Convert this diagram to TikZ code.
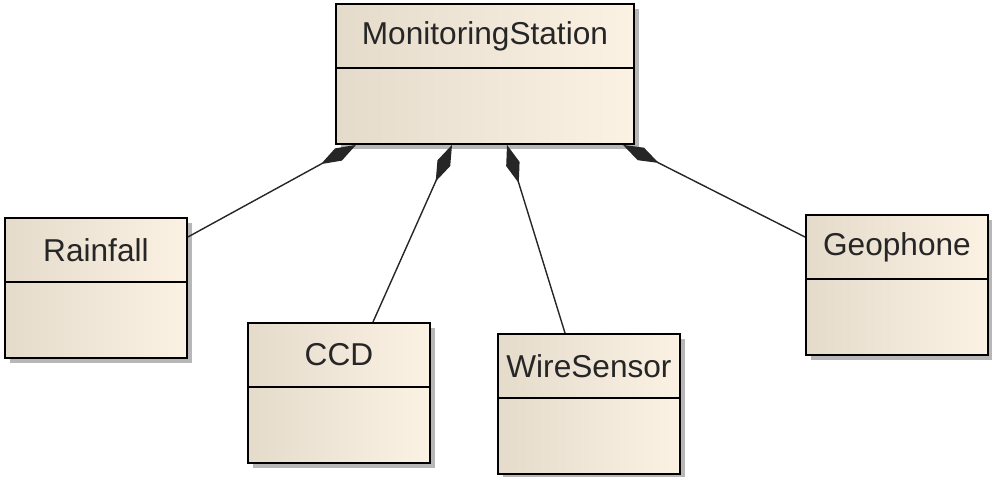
\documentclass[tikz,border=0pt]{standalone}
\usepackage{fontspec}
\setmainfont{Liberation Sans}
\usetikzlibrary{arrows.meta,calc,shadows}

\definecolor{boxleft}{RGB}{228,219,203}
\definecolor{boxright}{RGB}{251,242,228}

\tikzset{
  classbox/.style={draw=black, line width=1.1pt, left color=boxleft, right color=boxright,
    minimum width=3.64cm, minimum height=2.8cm, inner sep=0pt, anchor=north west,
    drop shadow={shadow xshift=0.1cm, shadow yshift=-0.1cm, fill=black!40, opacity=0.7}},
  classname/.style={font=\fontsize{18}{20}\selectfont, text=black!85, inner sep=0pt},
  divider/.style={draw=black, line width=1.1pt},
  composition/.style={draw=black!85, line width=0.8pt, {Diamond[length=0.8cm,width=0.28cm]}-},
}

\begin{document}
\begin{tikzpicture}[x=0.02cm, y=0.02cm]
\useasboundingbox (0,0) rectangle (992,-477);

% Classe principale
\node[classbox, minimum width=5.96cm] (station) at (335,-3) {};
\node[classname] (stationname) at ($(station.north)+(0,-33)$) {MonitoringStation};
\draw[divider] ($(station.north west)+(0,-65)$) -- ($(station.north east)+(0,-65)$);

% Capteurs
\node[classbox] (rain) at (4,-217) {};
\node[classname] (rainname) at ($(rain.north)+(0,-33)$) {Rainfall};
\draw[divider] ($(rain.north west)+(0,-65)$) -- ($(rain.north east)+(0,-65)$);

\node[classbox] (ccd) at (247,-322) {};
\node[classname] (ccdname) at ($(ccd.north)+(0,-33)$) {CCD};
\draw[divider] ($(ccd.north west)+(0,-65)$) -- ($(ccd.north east)+(0,-65)$);

\node[classbox] (wire) at (497,-333) {};
\node[classname] (wirename) at ($(wire.north)+(0,-33)$) {WireSensor};
\draw[divider] ($(wire.north west)+(0,-65)$) -- ($(wire.north east)+(0,-65)$);

\node[classbox] (geo) at (805,-214) {};
\node[classname] (geoname) at ($(geo.north)+(0,-33)$) {Geophone};
\draw[divider] ($(geo.north west)+(0,-65)$) -- ($(geo.north east)+(0,-65)$);

% Compositions
\coordinate (rainTip) at ($(station.south west)+(21,0)$);
\coordinate (ccdTip) at ($(station.south west)+(117,0)$);
\coordinate (wireTip) at ($(station.south west)+(172,0)$);
\coordinate (geoTip) at ($(station.south west)+(288,0)$);
\coordinate (rainEnd) at ($(rain.north east)+(0,-20)$);
\coordinate (ccdEnd) at ($(ccd.north west)+(126,0)$);
\coordinate (wireEnd) at ($(wire.north west)+(68,0)$);
\coordinate (geoEnd) at ($(geo.north west)+(0,-23)$);

\draw[composition] (rainTip) -- (rainEnd);
\draw[composition] (ccdTip) -- (ccdEnd);
\draw[composition] (wireTip) -- (wireEnd);
\draw[composition] (geoTip) -- (geoEnd);

\end{tikzpicture}
\end{document}
